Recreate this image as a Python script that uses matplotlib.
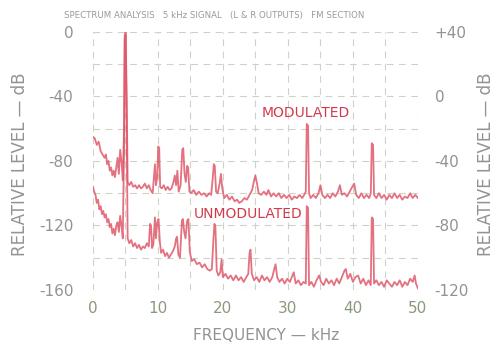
import matplotlib
matplotlib.use("Agg")
import matplotlib.pyplot as plt
import numpy as np

# modulated trace (kHz, dB on left scale)
mod_freq = [0.0, 0.3, 0.6, 0.9, 1.2, 1.5, 1.8, 2.0, 2.2, 2.4, 2.6, 2.8, 3.0, 3.2, 3.4, 3.6, 3.8, 4.0, 4.2, 4.4,
            4.6, 4.8, 4.9, 5.05, 5.2, 5.35, 5.6, 5.9, 6.2, 6.5, 6.8, 7.1, 7.4, 7.7, 8.0, 8.3, 8.6, 8.9, 9.2, 9.4,
            9.55, 9.7, 9.9, 10.05, 10.2, 10.35, 10.6, 10.9, 11.2, 11.5, 11.8, 12.1, 12.4, 12.6, 12.8, 13.0, 13.2,
            13.5, 13.75, 13.9, 14.1, 14.3, 14.5, 14.65, 14.85, 15.1, 15.5, 15.9, 16.3, 16.7, 17.1, 17.5, 17.9,
            18.2, 18.45, 18.6, 18.75, 18.95, 19.2, 19.5, 19.7, 19.9, 20.2, 20.6, 21.0, 21.4, 21.8, 22.2, 22.5,
            22.9, 23.3, 23.7, 24.1, 24.5, 24.8, 25.0, 25.25, 25.5, 25.9, 26.3, 26.7, 27.0, 27.4, 27.8, 28.2,
            28.6, 29.0, 29.4, 29.8, 30.2, 30.6, 31.0, 31.4, 31.8, 32.2, 32.5, 32.75, 32.9, 33.1, 33.25, 33.5,
            33.9, 34.3, 34.7, 35.0, 35.3, 35.7, 36.1, 36.5, 36.9, 37.3, 37.7, 38.0, 38.3, 38.7, 39.1, 39.5,
            39.9, 40.2, 40.5, 40.9, 41.3, 41.7, 42.1, 42.5, 42.75, 42.9, 43.1, 43.25, 43.6, 44.0, 44.4, 44.8,
            45.2, 45.6, 46.0, 46.4, 46.8, 47.2, 47.6, 48.0, 48.4, 48.8, 49.2, 49.6, 50.0]
mod_level = [-65, -66, -70, -68, -74, -76, -78, -76, -82, -80, -86, -84, -89, -86, -90, -84, -78, -88, -73, -80,
             -92, -60, -2, 0, -40, -93, -95, -93, -96, -95, -97, -95, -97, -96, -94, -97, -95, -98, -100, -90,
             -82, -95, -90, -71, -72, -96, -97, -95, -98, -96, -98, -97, -93, -89, -95, -86, -99,
             -95, -73, -72, -88, -93, -83, -84, -99, -100, -98, -101, -99, -101, -100, -102, -100,
             -101, -90, -82, -83, -99, -100, -94, -88, -97, -103, -101, -104, -102, -105, -104, -106,
             -105, -103, -104, -101, -98, -92, -89, -94, -100, -101, -99, -101, -98, -102, -100, -102,
             -100, -103, -101, -103, -101, -104, -102, -103, -101, -103, -101, -99, -57, -58, -100, -103,
             -101, -103, -100, -95, -101, -103, -101, -103, -100, -102, -99, -95, -101, -100, -102, -99,
             -96, -94, -101, -103, -100, -103, -101, -103, -100, -69, -70, -101, -103, -100, -103, -101,
             -104, -101, -103, -100, -103, -101, -104, -102, -103, -100, -103, -101, -103]

# unmodulated trace
unmod_freq = [0.0, 0.2, 0.4, 0.6, 0.8, 1.0, 1.2, 1.4, 1.6, 1.8, 2.0, 2.2, 2.4, 2.6, 2.8, 3.0, 3.2, 3.4, 3.6, 3.8,
              4.0, 4.2, 4.4, 4.6, 4.8, 4.9, 5.05, 5.2, 5.35, 5.6, 5.9, 6.2, 6.5, 6.8, 7.1, 7.4, 7.7, 8.0, 8.3,
              8.6, 8.8, 8.95, 9.1, 9.3, 9.55, 9.7, 9.9, 10.1, 10.3, 10.5, 10.8, 11.1, 11.4, 11.7, 12.0, 12.3,
              12.6, 12.8, 12.95, 13.15, 13.4, 13.7, 13.85, 14.05, 14.25, 14.5, 14.7, 14.9, 15.2, 15.6, 16.0,
              16.4, 16.8, 17.2, 17.6, 18.0, 18.3, 18.55, 18.7, 18.85, 19.05, 19.3, 19.6, 19.8, 20.0, 20.4,
              20.8, 21.2, 21.6, 22.0, 22.4, 22.8, 23.2, 23.6, 23.9, 24.1, 24.25, 24.45, 24.8, 25.2, 25.6, 26.0,
              26.4, 26.8, 27.2, 27.6, 27.9, 28.1, 28.35, 28.7, 29.1, 29.5, 29.9, 30.3, 30.7, 30.9, 31.2, 31.6,
              32.0, 32.4, 32.75, 32.9, 33.1, 33.25, 33.6, 34.0, 34.4, 34.8, 35.1, 35.5, 35.9, 36.3, 36.7, 37.1,
              37.5, 37.9, 38.3, 38.7, 38.9, 39.2, 39.6, 40.0, 40.4, 40.8, 41.2, 41.6, 42.0, 42.4, 42.75, 42.9,
              43.1, 43.25, 43.6, 44.0, 44.4, 44.8, 45.2, 45.6, 46.0, 46.4, 46.8, 47.2, 47.6, 48.0, 48.4, 48.8,
              49.2, 49.5, 49.7, 50.0]
unmod_level = [-96, -99, -101, -106, -104, -110, -108, -113, -111, -115, -113, -118, -116, -121, -119, -125, -122,
               -126, -120, -118, -124, -114, -120, -128, -70, -4, -2, -60, -128, -131, -129, -133, -131, -134,
               -132, -135, -133, -134, -131, -133, -119, -120, -134, -132, -115, -128, -118, -116, -130, -137,
               -135, -139, -137, -140, -138, -136, -133, -128, -127, -138, -140, -117, -116, -124, -128, -117,
               -116, -136, -142, -141, -144, -143, -146, -144, -147, -148, -147, -128, -119, -121, -148, -151,
               -149, -141, -152, -150, -153, -151, -154, -151, -154, -152, -155, -152, -150, -137, -135, -150,
               -154, -152, -155, -151, -154, -152, -155, -152, -147, -144, -152, -155, -153, -156, -153, -155,
               -151, -149, -156, -154, -157, -155, -156, -108, -109, -157, -155, -158, -154, -151, -155, -157,
               -153, -156, -154, -157, -153, -156, -152, -148, -147, -153, -150, -155, -152, -151, -156, -153,
               -157, -154, -157, -115, -116, -156, -154, -157, -155, -158, -154, -156, -158, -155, -157, -154,
               -158, -155, -157, -153, -155, -151, -156, -159]

x_ticks = [0, 10, 20, 30, 40, 50]
left_ticks = [0, -40, -80, -120, -160]
left_labels = ["0", "-40", "-80", "-120", "-160"]
right_labels = ["+40", "0", "-40", "-80", "-120"]

trace_red = "#e0586a"
label_red = "#d23a4c"
gray = "#939393"
green_gray = "#8a9a7c"

fig = plt.figure(figsize=(4.94, 3.44), dpi=100)
ax = fig.add_axes([0.188, 0.157, 0.658, 0.75])

ax.plot(unmod_freq, unmod_level, color=trace_red, lw=1.3, alpha=0.85)
ax.plot(mod_freq, mod_level, color=trace_red, lw=1.3, alpha=0.85)

ax.set_xlim(0, 50)
ax.set_ylim(-160, 0)
ax.set_xticks(x_ticks)
ax.set_xticks(np.arange(0, 51, 5), minor=True)
ax.set_yticks(left_ticks)
ax.set_yticklabels(left_labels)
ax.set_yticks(np.arange(-160, 1, 20), minor=True)
ax.grid(True, which="both", color="#cdd3c6", ls=(0, (6, 5)), lw=0.8)
ax.set_axisbelow(True)
for s in ax.spines.values():
    s.set_visible(False)
ax.tick_params(which="both", length=0)
ax.tick_params(axis="y", pad=14, labelsize=11, labelcolor=gray)
ax.tick_params(axis="x", pad=8, labelsize=11, labelcolor=green_gray)

ax2 = ax.twinx()
ax2.set_ylim(-160, 0)
ax2.set_yticks(left_ticks)
ax2.set_yticklabels(right_labels)
for s in ax2.spines.values():
    s.set_visible(False)
ax2.tick_params(length=0, pad=12, labelsize=11, labelcolor=gray)

# axis titles placed by hand, the right one sits close to the edge
fig.text(20 / 494, 1 - 164 / 344, "RELATIVE LEVEL — dB", fontsize=12, color=gray,
         rotation=90, ha="center", va="center")
fig.text(486 / 494, 1 - 164 / 344, "RELATIVE LEVEL — dB", fontsize=12, color=gray,
         rotation=90, ha="center", va="center")
fig.text(266 / 494, 1 - 336 / 344, "FREQUENCY — kHz", fontsize=11, color=gray,
         ha="center", va="center")

ax.text(26, -50, "MODULATED", fontsize=10, color=label_red, va="center", ha="left")
ax.text(15.5, -113, "UNMODULATED", fontsize=10, color=label_red, va="center", ha="left")

fig.text(0.13, 0.955, "SPECTRUM ANALYSIS   5 kHz SIGNAL   (L & R OUTPUTS)   FM SECTION",
         fontsize=6.2, color="#9a9a9a", va="center")

fig.savefig("out.png", dpi=100)
